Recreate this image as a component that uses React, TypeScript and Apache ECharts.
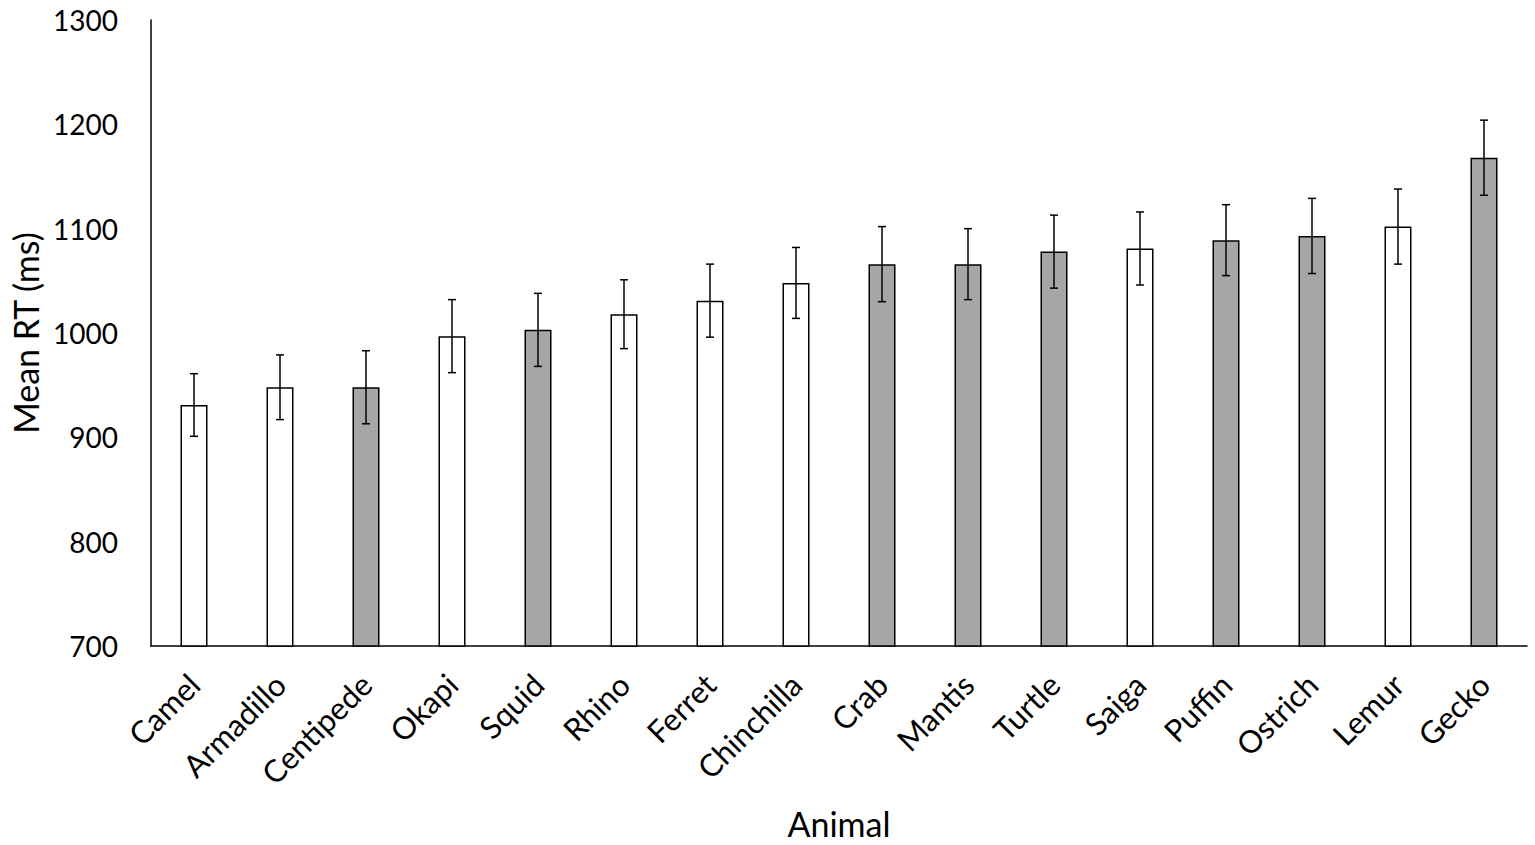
import React, { useEffect, useRef } from "react";
import * as echarts from "echarts";

const categories = ["Camel", "Armadillo", "Centipede", "Okapi", "Squid", "Rhino", "Ferret", "Chinchilla", "Crab", "Mantis", "Turtle", "Saiga", "Puffin", "Ostrich", "Lemur", "Gecko"];
const meanRT = [931, 948, 948, 997, 1003, 1018, 1031, 1048, 1066, 1066, 1078, 1081, 1089, 1093, 1102, 1168];
const errorRT = [30, 31, 35, 35, 35, 33, 35, 34, 36, 34, 35, 35, 34, 36, 36, 36];
const groups = ["white", "white", "gray", "white", "gray", "white", "white", "white", "gray", "gray", "gray", "white", "gray", "gray", "white", "gray"];
const yTicks = [700, 800, 900, 1000, 1100, 1200, 1300];

const FONT = "Lato";

export default function App() {
  const ref = useRef<HTMLDivElement>(null);
  useEffect(() => {
    if (!ref.current) return;
    const chart = echarts.init(ref.current, null, { renderer: "svg" });
    const option = {
      animation: false,
      backgroundColor: "#ffffff",
      grid: { left: 151, right: 8, top: 20, bottom: 199 },
      xAxis: {
        type: "category",
        data: categories,
        name: "Animal",
        nameLocation: "middle",
        nameGap: 160,
        nameTextStyle: { fontFamily: FONT, fontSize: 34, color: "#000" },
        axisLine: { lineStyle: { color: "#000", width: 1.5 } },
        axisTick: { show: false },
        axisLabel: { rotate: 45, margin: 33, fontFamily: FONT, fontSize: 31, color: "#000", interval: 0 },
      },
      yAxis: {
        type: "value",
        min: yTicks[0],
        max: yTicks[yTicks.length - 1],
        interval: 100,
        name: "Mean RT (ms)",
        nameLocation: "middle",
        nameGap: 98,
        nameRotate: 90,
        nameTextStyle: { fontFamily: FONT, fontSize: 34, color: "#000" },
        axisLine: { show: true, lineStyle: { color: "#000", width: 1.5 } },
        axisTick: { show: false },
        splitLine: { show: false },
        axisLabel: { margin: 33, fontFamily: FONT, fontSize: 28, color: "#000", formatter: (v: number) => String(v) },
      },
      series: [
        {
          type: "bar",
          barWidth: 27,
          data: meanRT.map((v, i) => ({
            value: v,
            itemStyle: { color: groups[i] === "gray" ? "#a6a6a6" : "#ffffff", borderColor: "#000", borderWidth: 1.5 },
          })),
        },
        {
          type: "custom",
          data: meanRT.map((v, i) => [i, v - errorRT[i], v + errorRT[i]]),
          renderItem: (params: any, api: any) => {
            const x = api.value(0);
            const lo = api.coord([x, api.value(1)]);
            const hi = api.coord([x, api.value(2)]);
            const cap = 4;
            const style = { stroke: "#000", lineWidth: 1.5 };
            return {
              type: "group",
              children: [
                { type: "line", shape: { x1: lo[0], y1: lo[1], x2: hi[0], y2: hi[1] }, style },
                { type: "line", shape: { x1: lo[0] - cap, y1: lo[1], x2: lo[0] + cap, y2: lo[1] }, style },
                { type: "line", shape: { x1: hi[0] - cap, y1: hi[1], x2: hi[0] + cap, y2: hi[1] }, style },
              ],
            };
          },
          z: 10,
        },
      ],
    };
    chart.setOption(option as any);
    return () => chart.dispose();
  }, []);
  return <div ref={ref} style={{ position: "absolute", left: 0, top: 0, width: 1535, height: 845 }} />;
}
